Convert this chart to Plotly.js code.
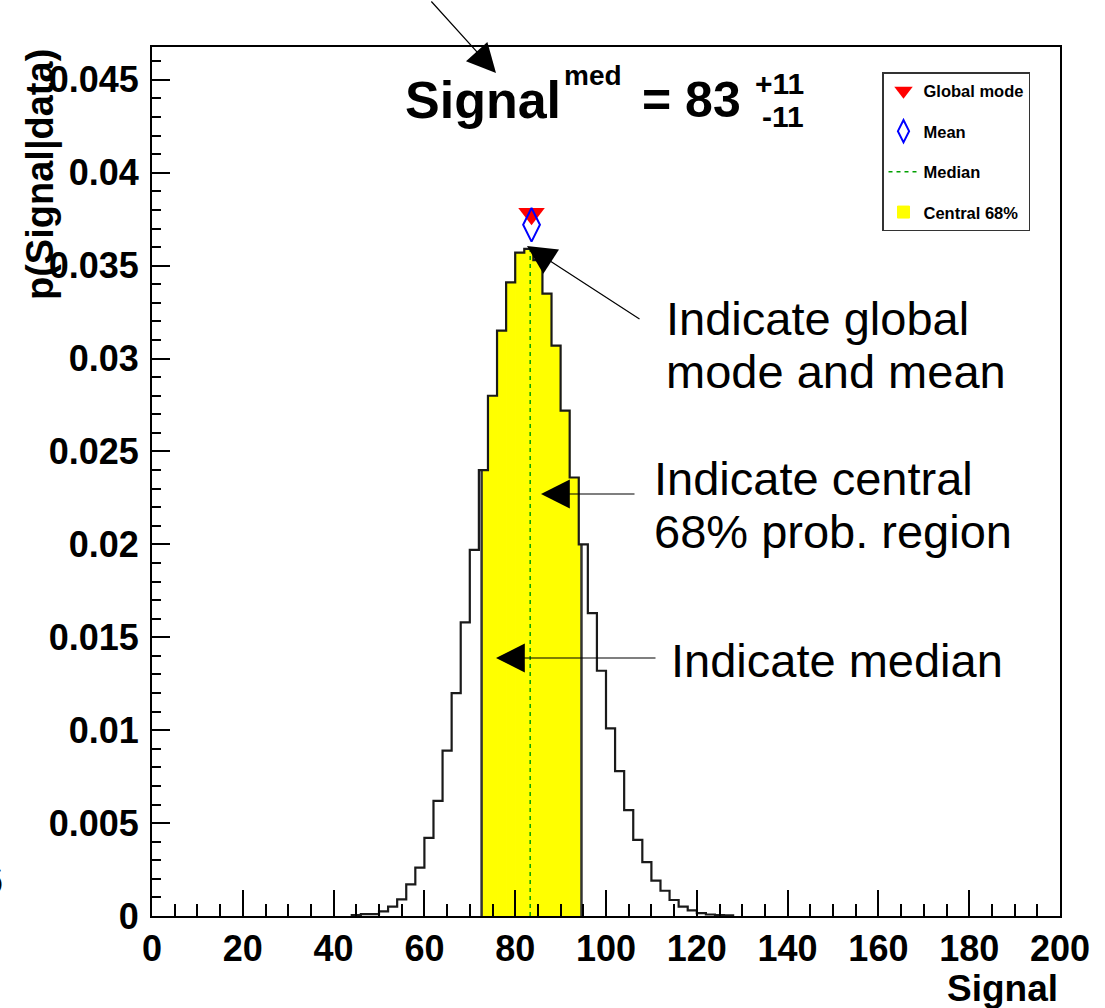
<!DOCTYPE html>
<html>
<head>
<meta charset="utf-8">
<script src="https://cdn.plot.ly/plotly-3.0.1.min.js"></script>
<style>html,body{margin:0;padding:0;background:#fff;}#chart{width:1105px;height:1008px;}</style>
</head>
<body>
<div id="chart"></div>
<script>
// ---------- data ----------
const binCenters = [45,47,49,51,53,55,57,59,61,63,65,67,69,71,73,75,77,79,81,83,85,87,89,91,93,95,97,99,101,103,105,107,109,111,113,115,117,119,121,123,125,127];
const binValues  = [0.00005,0.0001,0.0001,0.00025,0.0005,0.0009,0.0017,0.0026,0.0042,0.0062,0.0089,0.0120,0.0158,0.0197,0.0240,0.0280,0.0315,0.0341,0.0357,0.0359,0.0353,0.0335,0.0307,0.0272,0.0236,0.0200,0.0163,0.0132,0.0101,0.0078,0.0057,0.0041,0.0029,0.0019,0.00136,0.00086,0.0005,0.0003,0.00015,0.00008,0.00005,0.00003];
const binWidth = 2;
const centralLow = 72.6, centralHigh = 94.6;   // central 68% interval
const medianValue = 83.3;
const meanValue = 83.6, meanMarkerY = 0.0372;
const modeValue = 83.6, modeMarkerY = 0.0378;
const xTickVals = [0,20,40,60,80,100,120,140,160,180,200];
const xTickText = ['0','20','40','60','80','100','120','140','160','180','200'];
const yTickVals = [0,0.005,0.01,0.015,0.02,0.025,0.03,0.035,0.04,0.045];
const yTickText = ['0','0.005','0.01','0.015','0.02','0.025','0.03','0.035','0.04','0.045'];

// ---------- derived ----------
function heightAt(x){
  for (let i=0;i<binCenters.length;i++){
    if (x >= binCenters[i]-binWidth/2 && x < binCenters[i]+binWidth/2) return binValues[i];
  }
  return 0;
}
// histogram outline (step)
const stepX = [binCenters[0]-binWidth/2], stepY = [0];
binCenters.forEach((c,i)=>{ stepX.push(c-binWidth/2); stepY.push(binValues[i]); });
stepX.push(binCenters[binCenters.length-1]+binWidth/2); stepY.push(0);

// central region bars (clipped to the interval)
const cX=[], cY=[], cW=[];
binCenters.forEach((c,i)=>{
  const a=Math.max(c-binWidth/2, centralLow), b=Math.min(c+binWidth/2, centralHigh);
  if (b>a){ cX.push((a+b)/2); cW.push(b-a); cY.push(binValues[i]); }
});

const FONT = 'Liberation Sans, Arial, Helvetica, sans-serif';

const traces = [
  {type:'bar', x:cX, y:cY, width:cW, name:'Central 68%', legendgroup:'c', legendrank:4,
   marker:{color:'#ffff00', line:{width:1, color:'#ffff00'}}, hoverinfo:'skip'},
  {type:'scatter', mode:'lines', x:[centralLow,centralLow,null,centralHigh,centralHigh],
   y:[0,heightAt(centralLow),null,0,heightAt(centralHigh)], line:{color:'#333', width:2.5},
   showlegend:false, hoverinfo:'skip'},
  {type:'scatter', mode:'lines', x:stepX, y:stepY, line:{shape:'hv', color:'#1a1a1a', width:2.2},
   showlegend:false, hoverinfo:'skip'},
  {type:'scatter', mode:'lines', x:[medianValue,medianValue], y:[0,heightAt(medianValue)],
   name:'Median', legendgroup:'m', legendrank:3, line:{color:'#00a000', width:1.5, dash:'4px,4px'}},
  {type:'scatter', mode:'markers', x:[modeValue], y:[modeMarkerY], name:'Global mode', legendgroup:'g', legendrank:1,
   marker:{symbol:'triangle-down', size:23, color:'#ff0000', line:{width:0}}},
  {type:'scatter', mode:'markers', x:[meanValue], y:[meanMarkerY], name:'Mean', legendgroup:'n', legendrank:2,
   marker:{symbol:'diamond-tall-open', size:24, color:'#0000ff', line:{width:2, color:'#0000ff'}}}
];

// pixel helpers for layout-level annotations
const PL=152, PT=47, PW=908, PH=869;
const px = x => (x-PL)/PW;
const py = y => (PT+PH-y)/PH;

function txt(t, x, y, size, bold, xa, extra){
  return Object.assign({text:t, xref:'paper', yref:'paper', x:px(x), y:py(y), xanchor:xa||'left', yanchor:'middle',
    showarrow:false, font:{family:FONT, size:size, color:'#000', weight: bold?'bold':'normal'}}, extra||{});
}
function arrow(tipX, tipY, tailX, tailY){
  return {text:'', xref:'paper', yref:'paper', x:px(tipX), y:py(tipY), ax:tailX-tipX, ay:tailY-tipY,
    showarrow:true, arrowhead:2, arrowsize:4.8, arrowwidth:1.2, arrowcolor:'#000', standoff:0};
}

const annotations = [
  txt('Signal', 403, 100, 52, true),
  txt('med', 562, 76, 28, true),
  txt('= 83', 640, 100, 50, true),
  txt('+11', 806, 83, 30, true, 'right'),
  txt('-11', 806, 117, 30, true, 'right'),
  txt('p(Signal|data)', 40, 175, 38, true, 'center', {textangle:-90}),
  txt('Signal', 1060, 988, 37, true, 'right'),
  txt('Indicate global', 664, 318, 47, false),
  txt('mode and mean', 664, 372, 47, false),
  txt('Indicate central', 652, 478, 47, false),
  txt('68% prob. region', 652, 531, 47, false),
  txt('Indicate median', 669, 660, 47, false),
  txt('6', 5, 880, 40, false, 'right'),
  arrow(496, 73, 430, 0),
  arrow(527, 246, 641, 320),
  arrow(541, 494, 636, 494),
  arrow(496, 658, 657, 658)
];

const axisCommon = {
  showgrid:false, zeroline:false, showline:true, mirror:true, linecolor:'#000', linewidth:2,
  ticks:'inside', tickwidth:2, tickcolor:'#000',
  tickfont:{family:FONT, size:36, color:'#000', weight:'bold'}
};

const layout = {
  width:1105, height:1008, autosize:false,
  margin:{l:PL, r:1105-PL-PW, t:PT, b:1008-PT-PH, pad:0},
  paper_bgcolor:'#fff', plot_bgcolor:'#fff',
  showlegend:true,
  barmode:'overlay',
  xaxis:Object.assign({}, axisCommon, {range:[0,200], tickmode:'array', tickvals:xTickVals, ticktext:xTickText, ticklen:26,
     minor:{ticks:'inside', ticklen:12, tickwidth:2, tickcolor:'#000', tickmode:'linear', tick0:0, dtick:5, showgrid:false}}),
  yaxis:Object.assign({}, axisCommon, {range:[0,0.04677], tickmode:'array', tickvals:yTickVals, ticktext:yTickText, ticklen:18,
     ticklabelstandoff:4,
     minor:{ticks:'inside', ticklen:9, tickwidth:2, tickcolor:'#000', tickmode:'linear', tick0:0, dtick:0.001, showgrid:false}}),
  legend:{x:px(882), y:py(72), xanchor:'left', yanchor:'top', bgcolor:'#fff', bordercolor:'#333', borderwidth:1.5,
     font:{family:FONT, size:16.5, color:'#000', weight:'bold'}, tracegroupgap:16, traceorder:'grouped'},
  annotations: annotations
};

Plotly.newPlot('chart', traces, layout, {displayModeBar:false, staticPlot:true});
</script>
</body>
</html>
